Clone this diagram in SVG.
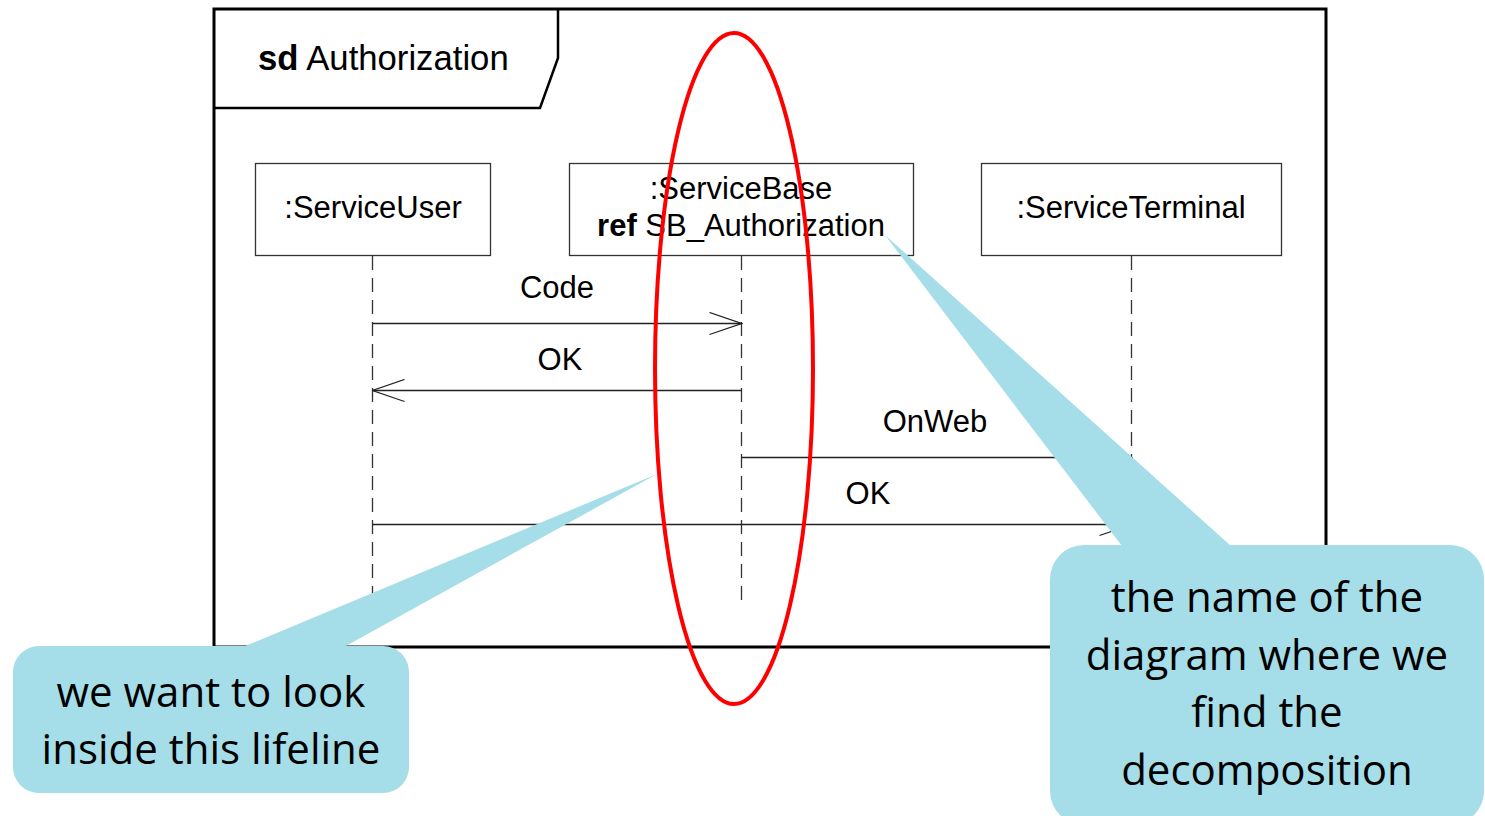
<svg xmlns="http://www.w3.org/2000/svg" width="1485" height="816" viewBox="0 0 1485 816">
  <defs>
    <style>
      .uml { font-family: "Liberation Sans", Arial, sans-serif; font-size: 31px; fill: #000; }
      .note { font-family: "Open Sans", "Noto Sans", sans-serif; font-size: 42px; fill: #000; text-anchor: middle; }
      .box { fill: #fff; stroke: #333; stroke-width: 1.3; }
      .life { stroke: #333; stroke-width: 1.3; stroke-dasharray: 14 8; fill: none; }
      .msg { stroke: #222; stroke-width: 1.3; fill: none; }
      .callout { fill: #a5dde8; stroke: none; }
    </style>
    <marker id="open" viewBox="0 0 34 24" refX="33" refY="12" markerWidth="34" markerHeight="24" markerUnits="userSpaceOnUse" orient="auto">
      <path d="M1,1 L33,12 L1,23" fill="none" stroke="#222" stroke-width="1.3"/>
    </marker>
  </defs>

  <!-- interaction frame -->
  <g id="frame">
    <rect x="214" y="9" width="1112" height="638" fill="#fff" stroke="#000" stroke-width="3"/>
    <path d="M214,108 L540,108 L558,58 L558,9" fill="none" stroke="#000" stroke-width="2.5"/>
    <text x="258" y="70" class="uml" style="font-size:34.7px"><tspan font-weight="bold">sd</tspan> Authorization</text>
  </g>

  <!-- lifelines -->
  <g id="serviceUser">
    <rect class="box" x="255.5" y="163.5" width="235" height="92"/>
    <text class="uml" x="373" y="218" text-anchor="middle">:ServiceUser</text>
    <line class="life" x1="372.5" y1="256" x2="372.5" y2="595"/>
  </g>
  <g id="serviceBase">
    <rect class="box" x="569.5" y="163.5" width="344" height="92"/>
    <text class="uml" x="741" y="199" text-anchor="middle">:ServiceBase</text>
    <text class="uml" x="741" y="236" text-anchor="middle"><tspan font-weight="bold">ref</tspan> SB_Authorization</text>
    <line class="life" x1="741.5" y1="256" x2="741.5" y2="606"/>
  </g>
  <g id="serviceTerminal">
    <rect class="box" x="981.5" y="163.5" width="300" height="92"/>
    <text class="uml" x="1131" y="218" text-anchor="middle">:ServiceTerminal</text>
    <line class="life" x1="1131.5" y1="256" x2="1131.5" y2="595"/>
  </g>

  <!-- messages -->
  <g id="messages">
    <line class="msg" x1="372.5" y1="323.5" x2="741.5" y2="323.5" marker-end="url(#open)"/>
    <text class="uml" x="557" y="298" text-anchor="middle">Code</text>
    <line class="msg" x1="741.5" y1="390.5" x2="372.5" y2="390.5" marker-end="url(#open)"/>
    <text class="uml" x="560" y="370" text-anchor="middle">OK</text>
    <line class="msg" x1="741.5" y1="457.5" x2="1131.5" y2="457.5" marker-end="url(#open)"/>
    <text class="uml" x="935" y="432" text-anchor="middle">OnWeb</text>
    <line class="msg" x1="372.5" y1="524.5" x2="1131.5" y2="524.5" marker-end="url(#open)"/>
    <text class="uml" x="868" y="504" text-anchor="middle">OK</text>
  </g>

  <!-- highlight around the decomposed lifeline -->
  <ellipse id="highlight" cx="734" cy="368.5" rx="79" ry="335.5" fill="none" stroke="#ff0000" stroke-width="4"/>

  <!-- annotation: lifeline -->
  <g id="noteLifeline">
    <path class="callout" d="M243,647 L657,474 L344,647 Z"/>
    <rect class="callout" x="13" y="646" width="396" height="147" rx="26"/>
    <text class="note" x="211" y="707">we want to look</text>
    <text class="note" x="211" y="764">inside this lifeline</text>
  </g>

  <!-- annotation: referenced diagram -->
  <g id="noteReference">
    <path class="callout" d="M1122,546 L885,235 L1231,546 Z"/>
    <rect class="callout" x="1050" y="545" width="434" height="280" rx="34"/>
    <text class="note" x="1267" y="612">the name of the</text>
    <text class="note" x="1267" y="670">diagram where we</text>
    <text class="note" x="1267" y="727">find the</text>
    <text class="note" x="1267" y="785">decomposition</text>
  </g>
</svg>
